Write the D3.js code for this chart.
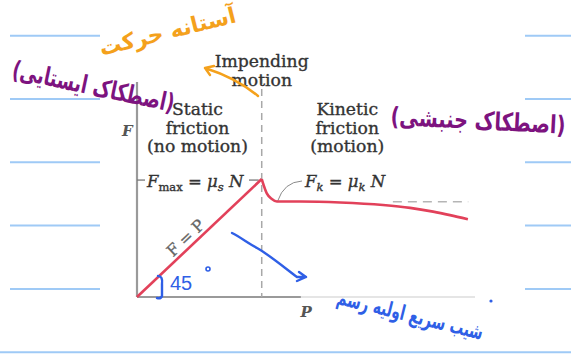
<!DOCTYPE html>
<html>
<head>
<meta charset="utf-8">
<script src="https://cdn.jsdelivr.net/npm/d3@7/dist/d3.min.js"></script>
<style>
  html, body { margin: 0; padding: 0; background: #ffffff; }
  svg { display: block; }
</style>
</head>
<body>
<svg id="chart" width="571" height="354"></svg>
<script>
// Friction force F against applied force P
const staticP  = [0, 36.9];
const staticF  = [0, 37.3];
const kineticP = [36.9, 38.4, 39.9, 41.4, 48.2, 60.1, 72.8, 80.8, 87.6, 92.6, 97.9];
const kineticF = [37.3, 32.8, 31.0, 30.2, 30.2, 29.9, 29.1, 28.2, 27.0, 25.9, 24.6];
const impendingP = 36.9;
const fMax = 37.3;
const fKinetic = 30.1;
const kineticRefP = [75.7, 98];

const regionLabels = [
  { lines: ["Impending", "motion"], p: 36.9, f: 72.6 },
  { lines: ["Static", "friction", "(no motion)"], p: 17.9, f: 57.6 },
  { lines: ["Kinetic", "friction", "(motion)"], p: 62.2, f: 57.6 }
];

// notes written on the page
const noteStatic  = "(اصطکاک ایستایی)";
const noteKinetic = "(اصطکاک جنبشی)";
const noteImpend  = "آستانه حرکت";
const noteBottom  = "شیب سریع اولیه رسم";
const noteAngle   = "45";

const svg = d3.select("#chart");
const W = 571, H = 354;

// ruled notebook lines
const ruleTop = 35.7, ruleGap = 63.3;
const rules = d3.range(6).map(i => ruleTop + i * ruleGap);
const ruleColor = "#9fcaf6";
svg.append("g").selectAll("line").data(rules).join("line")
  .attr("x1", (d, i) => i === 5 ? 0 : 10)
  .attr("x2", (d, i) => i === 5 ? W : 100)
  .attr("y1", d => d).attr("y2", d => d)
  .attr("stroke", ruleColor).attr("stroke-width", 2);
svg.append("g").selectAll("line").data(rules.slice(0, 5)).join("line")
  .attr("x1", 525).attr("x2", W)
  .attr("y1", d => d).attr("y2", d => d)
  .attr("stroke", ruleColor).attr("stroke-width", 2);

// the printed figure sits on a white card
svg.append("rect").attr("x", 101).attr("y", 14).attr("width", 424).attr("height", 330)
  .attr("fill", "#ffffff");

const x = d3.scaleLinear().domain([0, 100]).range([137, 475]);
const y = d3.scaleLinear().domain([0, 68]).range([297, 82]);

const fig = svg.append("g");
const ink = "#333333";
const serif = "'DejaVu Serif', serif";

// axes
fig.append("line")
  .attr("x1", x(0)).attr("x2", x(0)).attr("y1", y(68)).attr("y2", y(0))
  .attr("stroke", "#9a9a9a").attr("stroke-width", 2.2);
fig.append("line")
  .attr("x1", x(0)).attr("x2", x(48.5)).attr("y1", y(0)).attr("y2", y(0))
  .attr("stroke", "#9a9a9a").attr("stroke-width", 2.2);
fig.append("line")
  .attr("x1", x(48.5)).attr("x2", x(100)).attr("y1", y(0)).attr("y2", y(0))
  .attr("stroke", "#dcdcdc").attr("stroke-width", 1.6);

fig.append("text").attr("x", x(0) - 15).attr("y", 136)
  .attr("font-family", serif).attr("font-style", "italic").attr("font-weight", "bold")
  .attr("font-size", 15).attr("fill", "#555").text("F");
fig.append("text").attr("x", x(48.4)).attr("y", 317)
  .attr("font-family", serif).attr("font-style", "italic").attr("font-weight", "bold")
  .attr("font-size", 15).attr("fill", "#555").text("P");

// impending-motion divider
fig.append("line")
  .attr("x1", x(impendingP)).attr("x2", x(impendingP))
  .attr("y1", 77).attr("y2", y(0))
  .attr("stroke", "#a8a8a8").attr("stroke-width", 1.5).attr("stroke-dasharray", "7,5");

// region captions
regionLabels.forEach(r => {
  const t = fig.append("text").attr("text-anchor", "middle")
    .attr("font-family", serif).attr("font-size", 17.2).attr("fill", ink)
    .attr("stroke", ink).attr("stroke-width", 0.35);
  r.lines.forEach((ln, i) => {
    t.append("tspan").attr("x", x(r.p)).attr("y", y(r.f) + i * 18.8).text(ln);
  });
});

// F_max tick and label
fig.append("line").attr("x1", x(0)).attr("x2", x(0) + 8)
  .attr("y1", y(fMax) + 1).attr("y2", y(fMax) + 1)
  .attr("stroke", "#777").attr("stroke-width", 1.3);
fig.append("line").attr("x1", 249).attr("x2", x(impendingP) - 3)
  .attr("y1", y(fMax) + 1).attr("y2", y(fMax) + 1)
  .attr("stroke", "#777").attr("stroke-width", 1.3);

function eqLabel(px, py, sub1, sub2) {
  const t = fig.append("text").attr("x", px).attr("y", py)
    .attr("font-family", serif).attr("font-size", 16.5).attr("fill", ink)
    .attr("stroke", ink).attr("stroke-width", 0.35);
  t.append("tspan").attr("font-style", "italic").text("F");
  t.append("tspan").attr("font-size", 11.5).attr("dy", 4)
    .attr("font-style", sub1 === "max" ? "normal" : "italic").text(sub1);
  t.append("tspan").attr("dy", -4).text(" = ");
  t.append("tspan").attr("font-style", "italic").text("μ");
  t.append("tspan").attr("font-size", 11.5).attr("dy", 4).attr("font-style", "italic").text(sub2);
  t.append("tspan").attr("dy", -4).attr("font-style", "italic").text(" N");
  return t;
}
eqLabel(147, 187, "max", "s");
eqLabel(305, 187, "k", "k");

// leader from F_k label to the kinetic curve
fig.append("path")
  .attr("d", `M302,181 Q284,182 ${x(41.6)},${y(30.3)}`)
  .attr("fill", "none").attr("stroke", "#8a8a8a").attr("stroke-width", 1);

// kinetic reference (dashed continuation)
fig.append("line")
  .attr("x1", x(kineticRefP[0])).attr("x2", x(kineticRefP[1]))
  .attr("y1", y(fKinetic)).attr("y2", y(fKinetic))
  .attr("stroke", "#b5b5b5").attr("stroke-width", 1.5).attr("stroke-dasharray", "9,6");

// friction curve
const red = "#e2415a";
const lineLin = d3.line().x(d => x(d[0])).y(d => y(d[1]));
const lineMono = d3.line().x(d => x(d[0])).y(d => y(d[1])).curve(d3.curveMonotoneX);
fig.append("path").datum(staticP.map((p, i) => [p, staticF[i]]))
  .attr("d", lineLin).attr("fill", "none").attr("stroke", red)
  .attr("stroke-width", 2.6).attr("stroke-linejoin", "round");
fig.append("path").datum(kineticP.map((p, i) => [p, kineticF[i]]))
  .attr("d", lineMono).attr("fill", "none").attr("stroke", red)
  .attr("stroke-width", 2.6).attr("stroke-linejoin", "round");

// F = P along the static branch
const angle = -Math.atan2(y(0) - y(staticF[1]), x(staticP[1]) - x(0)) * 180 / Math.PI;
fig.append("text")
  .attr("transform", `translate(${x(14) + 2},${y(14) - 14}) rotate(${angle})`)
  .attr("text-anchor", "middle").attr("dominant-baseline", "middle")
  .attr("font-family", serif).attr("font-size", 16).attr("fill", "#666")
  .attr("stroke", "#666").attr("stroke-width", 0.3)
  .text("F = P");

// handwritten notes
const hand = "'DejaVu Sans', sans-serif";
function note(text, cx, cy, rot, width, color, size) {
  const g = svg.append("g").attr("transform", `translate(${cx},${cy}) rotate(${rot})`);
  const t = g.append("text").attr("text-anchor", "middle").attr("dominant-baseline", "middle")
    .attr("direction", "rtl").attr("unicode-bidi", "plaintext")
    .attr("font-family", hand).attr("font-size", size).attr("font-weight", "bold")
    .attr("fill", color).text(text);
  const w = t.node().getComputedTextLength();
  if (w > 0) t.attr("transform", `scale(${width / w},1)`);
  return g;
}
const purple = "#7d137f", orange = "#f4a11c", blue = "#2f5fe6";
note(noteStatic, 93, 88, 12, 165, purple, 25);
note(noteKinetic, 478, 122, 3, 175, purple, 25);
note(noteImpend, 168, 33, -14, 140, orange, 22);
note(noteBottom, 410, 316, 14, 150, blue, 21);
svg.append("circle").attr("cx", 491).attr("cy", 301).attr("r", 1.6).attr("fill", blue);

// orange arrow toward the impending-motion note
svg.append("path").attr("d", "M258,96 C246,86 230,76 205,68 M205,68 L214,66 M205,68 L210,75")
  .attr("fill", "none").attr("stroke", orange).attr("stroke-width", 2.4)
  .attr("stroke-linecap", "round").attr("stroke-linejoin", "round");

// blue arrow and 45° angle mark
svg.append("path")
  .attr("d", "M232,233 C240,237 248,243 257,248 C268,254 285,268 297,277 L306,277 M306,277 L299,272 M306,277 L297,281")
  .attr("fill", "none").attr("stroke", blue).attr("stroke-width", 2.4)
  .attr("stroke-linecap", "round").attr("stroke-linejoin", "round");
svg.append("path").attr("d", "M158,276 Q163,276 162,284 L162,296 Q161,299 157,298")
  .attr("fill", "none").attr("stroke", blue).attr("stroke-width", 2.4).attr("stroke-linecap", "round");
svg.append("text").attr("x", 170).attr("y", 290)
  .attr("font-family", "'Liberation Sans', sans-serif").attr("font-size", 20)
  .attr("fill", blue).text(noteAngle);
svg.append("circle").attr("cx", 208).attr("cy", 269).attr("r", 2).attr("fill", "none")
  .attr("stroke", blue).attr("stroke-width", 1.6);
</script>
</body>
</html>
